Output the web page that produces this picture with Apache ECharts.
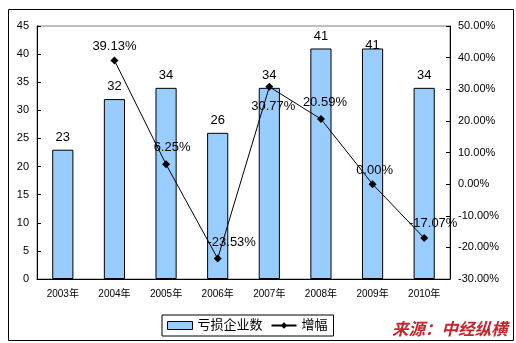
<!DOCTYPE html>
<html><head><meta charset="utf-8">
<script src="https://cdn.jsdelivr.net/npm/echarts@6/dist/echarts.min.js"></script>
<style>html,body{margin:0;padding:0;background:#fff}#c{width:516px;height:343px}</style>
</head><body><div id="c"></div>
<script>
var categories = ['2003年','2004年','2005年','2006年','2007年','2008年','2009年','2010年'];
var lossCompanies = [23, 32, 34, 26, 34, 41, 41, 34];
var growthPct = [null, 39.13, 6.25, -23.53, 30.77, 20.59, 0.00, -17.07];
var seriesNames = ['亏损企业数', '增幅'];
var sourceText = '来源：中经纵横';

// label placement tweaks (style only, kept apart from the data)
var lineLabelOffsets = [[0,0],[0,-14],[6,-17],[14,-16],[4,20],[4,-17],[2,-14],[9,-15]];
var barLabelOffsets = [[0,0],[0,0],[0,0],[0,0],[0,0],[0,0],[0,9],[0,0]];

var FONT = '"Liberation Sans", Arial, "Noto Sans CJK SC", sans-serif';

var barData = lossCompanies.map(function (v, i) {
  return {value: v, label: {offset: barLabelOffsets[i]}};
});
var lineData = growthPct.map(function (v, i) {
  return v === null ? null : {value: v, label: {offset: lineLabelOffsets[i]}};
});

var chart = echarts.init(document.getElementById('c'), null, {renderer: 'canvas'});
chart.setOption({
  animation: false,
  backgroundColor: '#fff',
  textStyle: {fontFamily: FONT},
  grid: {left: 37, right: 66, top: 26, bottom: 64, show: true, borderColor: '#808080', borderWidth: 1, backgroundColor: 'transparent'},
  legend: {
    left: 162, top: 315, width: 165, height: 21,
    padding: [4, 6, 4, 5], itemGap: 8,
    borderColor: '#000', borderWidth: 1,
    itemWidth: 25, itemHeight: 8,
    textStyle: {fontSize: 13, color: '#000', fontFamily: FONT},
    data: [
      {name: seriesNames[0], icon: 'rect', itemStyle: {color: '#99CCFF', borderColor: '#000', borderWidth: 1}},
      {name: seriesNames[1]}
    ]
  },
  xAxis: {
    type: 'category', data: categories, boundaryGap: true,
    axisLine: {lineStyle: {color: '#000', width: 1}},
    axisTick: {inside: true, length: 4, alignWithLabel: false, lineStyle: {color: '#000'}},
    axisLabel: {fontSize: 10, color: '#000', margin: 10, fontFamily: FONT}
  },
  yAxis: [
    {
      type: 'value', min: 0, max: 45, interval: 5,
      axisLine: {show: true, lineStyle: {color: '#000'}},
      axisTick: {show: true, inside: true, length: 4, lineStyle: {color: '#000'}},
      splitLine: {show: false},
      axisLabel: {fontSize: 11, color: '#000', margin: 8, fontFamily: FONT}
    },
    {
      type: 'value', min: -30, max: 50, interval: 10,
      axisLine: {show: true, lineStyle: {color: '#000'}},
      axisTick: {show: true, inside: true, length: 4, lineStyle: {color: '#000'}},
      splitLine: {show: false},
      axisLabel: {fontSize: 11, color: '#000', margin: 8, fontFamily: FONT,
        formatter: function (v) { return v.toFixed(2) + '%'; }}
    }
  ],
  series: [
    {
      name: seriesNames[0], type: 'bar', data: barData, yAxisIndex: 0,
      barWidth: '41%',
      itemStyle: {color: '#99CCFF', borderColor: '#000', borderWidth: 1},
      label: {show: true, position: 'top', distance: 6, fontSize: 13, color: '#000', fontFamily: FONT}
    },
    {
      name: seriesNames[1], type: 'line', data: lineData, yAxisIndex: 1,
      symbol: 'diamond', symbolSize: 8, connectNulls: false,
      lineStyle: {color: '#000', width: 1},
      itemStyle: {color: '#000'},
      z: 3,
      label: {show: true, position: 'inside', fontSize: 13, color: '#000', fontFamily: FONT,
        formatter: function (p) { return Number(p.value).toFixed(2) + '%'; }}
    }
  ],
  graphic: [
    {type: 'rect', left: 6, top: 7, shape: {width: 505, height: 331}, style: {fill: 'none', stroke: '#000', lineWidth: 1}, silent: true, z: -1},
    {type: 'text', left: 392, top: 320, style: {text: sourceText, fill: '#C0282D', font: 'italic bold 16.5px "Noto Sans CJK SC", sans-serif'}}
  ]
});
</script></body></html>
